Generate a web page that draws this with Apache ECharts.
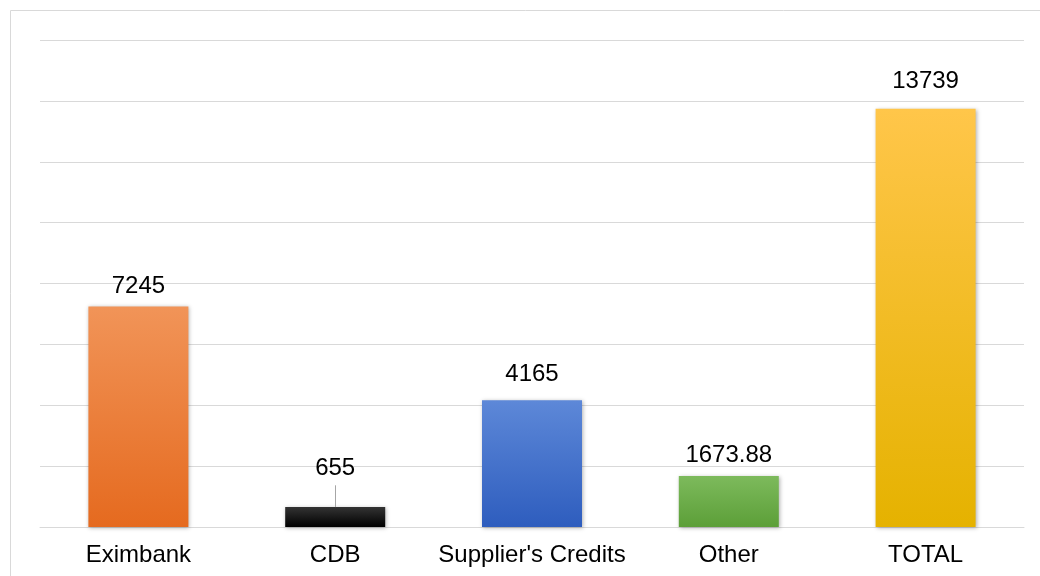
<!DOCTYPE html>
<html><head><meta charset="utf-8">
<script src="https://cdn.jsdelivr.net/npm/echarts@6/dist/echarts.min.js"></script>
<style>html,body{margin:0;padding:0;background:#fff}#c{width:1040px;height:576px}</style>
</head><body><div id="c"></div>
<script>
const categories = ["Eximbank", "CDB", "Supplier's Credits", "Other", "TOTAL"];
const values = [7245, 655, 4165, 1673.88, 13739];
const labels = ["7245", "655", "4165", "1673.88", "13739"];
const labelDistance = [8, 27, 14, 9, 15];
const leaderEnd = 1370;
const gradients = [
  ["#F19458", "#E56A1F"],
  ["#333333", "#000000"],
  ["#5D88D8", "#2E5DBE"],
  ["#7DBA5C", "#5C9F38"],
  ["#FFC64A", "#E5B200"]
];
const chart = echarts.init(document.getElementById('c'));
chart.setOption({
  animation: false,
  graphic: [{type: 'rect', shape: {x: 10.5, y: 10.5, width: 1100, height: 700}, style: {fill: 'none', stroke: '#d9d9d9', lineWidth: 1}, silent: true}],
  grid: {left: 40, right: 16, top: 40, bottom: 49},
  xAxis: {
    type: 'category', data: categories,
    axisLine: {show: true, lineStyle: {color: '#d9d9d9'}},
    axisTick: {show: false},
    axisLabel: {interval: 0, color: '#000', fontFamily: 'Liberation Sans', fontSize: 24, margin: 16}
  },
  yAxis: {
    type: 'value', min: 0, max: 16000, interval: 2000,
    axisLabel: {show: false}, axisLine: {show: false}, axisTick: {show: false},
    splitLine: {lineStyle: {color: '#d9d9d9', width: 1}}
  },
  series: [{
    type: 'bar', barWidth: 100,
    data: values.map((v, i) => ({
      value: v,
      itemStyle: {color: new echarts.graphic.LinearGradient(0, 0, 0, 1, [{offset: 0, color: gradients[i][0]}, {offset: 1, color: gradients[i][1]}]),
        shadowColor: 'rgba(0,0,0,0.3)', shadowBlur: 4, shadowOffsetX: 1, shadowOffsetY: 1},
      label: {distance: labelDistance[i]}
    })),
    label: {show: true, position: 'top', color: '#000', fontFamily: 'Liberation Sans', fontSize: 24,
      formatter: p => labels[p.dataIndex]},
    markLine: {
      silent: true, symbol: 'none', label: {show: false},
      lineStyle: {color: '#a6a6a6', width: 1, type: 'solid'},
      data: [[{coord: [categories[1], values[1]]}, {coord: [categories[1], leaderEnd]}]]
    }
  }]
});
</script></body></html>
